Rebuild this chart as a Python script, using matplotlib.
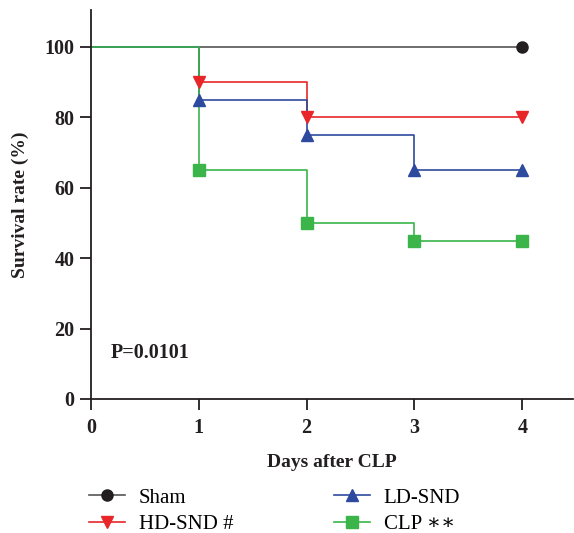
import matplotlib
matplotlib.use('Agg')
import matplotlib.pyplot as plt

days = [0, 1, 2, 3, 4]
sham = [100, 100, 100, 100, 100]
hd_snd = [100, 90, 80, 80, 80]
ld_snd = [100, 85, 75, 65, 65]
clp = [100, 65, 50, 45, 45]

plt.rcParams['font.family'] = ['Liberation Serif', 'DejaVu Serif']

fig = plt.figure(figsize=(5.74, 5.33), dpi=100)
ax = fig.add_axes([91 / 574, 1 - 399 / 533, (573 - 91) / 574, (399 - 10) / 533])

# Kaplan-Meier style step curves, markers only where a step happens / at the end
series = [
    ('Sham', sham, '#231f20', '#555555', 'o', [4]),
    ('HD-SND #', hd_snd, '#e8262a', '#e8262a', 'v', [1, 2, 4]),
    ('LD-SND', ld_snd, '#2e4a9e', '#2e4a9e', '^', [1, 2, 3, 4]),
    ('CLP \u2217\u2217', clp, '#3bb54a', '#3bb54a', 's', [1, 2, 3, 4]),
]
handles = {}
for name, vals, mcol, lcol, mk, marks in series:
    ax.step(days, vals, where='post', color=lcol, lw=1.2, zorder=2)
    ax.plot(marks, [vals[i] for i in marks], linestyle='none', marker=mk,
            color=mcol, markersize=8, zorder=3)
    h, = ax.plot([], [], color=lcol, lw=1.2, marker=mk, markerfacecolor=mcol,
                 markeredgecolor=mcol, markersize=8)
    handles[name] = h

ax.set_xlim(0, 4.47)
ax.set_ylim(0, 110.5)
ax.set_xticks([0, 1, 2, 3, 4])
ax.set_yticks([0, 20, 40, 60, 80, 100])
ax.spines['top'].set_visible(False)
ax.spines['right'].set_visible(False)
for s in ['left', 'bottom']:
    ax.spines[s].set_linewidth(1.3)
    ax.spines[s].set_color('#231f20')
ax.tick_params(axis='both', length=8, width=1.3, color='#231f20', labelsize=14.5)
ax.tick_params(axis='x', pad=6)
ax.tick_params(axis='y', pad=4)
for lbl in ax.get_xticklabels() + ax.get_yticklabels():
    lbl.set_fontweight('bold')
    lbl.set_color('#231f20')

ax.set_xlabel('Days after CLP', fontsize=14, fontweight='bold', labelpad=11, color='#231f20')
ax.set_ylabel('Survival rate (%)', fontsize=14, fontweight='bold', labelpad=11, color='#231f20')
ax.text(0.18, 13, 'P=0.0101', fontsize=14.5, fontweight='bold', va='center', color='#231f20')

order = [s[0] for s in series]
order = [order[0], order[1], order[2], order[3]]
fig.legend([handles[n] for n in order], order, loc='upper left',
           bbox_to_anchor=(89 / 574, 1 - 488 / 533), ncol=2, frameon=False, fontsize=15,
           borderpad=0, borderaxespad=0,
           handlelength=1.75, columnspacing=4.8, labelspacing=0.35, handletextpad=0.65)

fig.savefig('out.png', dpi=100)
